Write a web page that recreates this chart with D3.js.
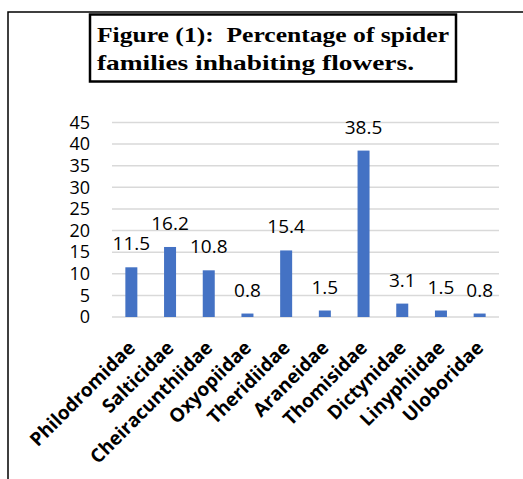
<!DOCTYPE html>
<html>
<head>
<meta charset="utf-8">
<script src="https://cdn.jsdelivr.net/npm/d3@7"></script>
<style>
  html, body { margin: 0; padding: 0; background: #fff; overflow: hidden; }
  svg { display: block; }
</style>
</head>
<body>
<svg id="chart" width="523" height="479"></svg>
<script>
// Spider families found on flowers and their share (%)
const families = ["Philodromidae", "Salticidae", "Cheiracunthiidae", "Oxyopiidae", "Theridiidae",
                  "Araneidae", "Thomisidae", "Dictynidae", "Linyphiidae", "Uloboridae"];
const percentages = [11.5, 16.2, 10.8, 0.8, 15.4, 1.5, 38.5, 3.1, 1.5, 0.8];
const yTicks = [0, 5, 10, 15, 20, 25, 30, 35, 40, 45];
const titleLines = ["Figure (1):  Percentage of spider", "families inhabiting flowers."];
const titleWidths = [352, 317];

const svg = d3.select("#chart");
const sansFont = "'Open Sans', 'Noto Sans', sans-serif";

// outer frame (top and left edges fall inside the page)
svg.append("path")
  .attr("d", "M8,479 L8,12 L523,12")
  .attr("fill", "none").attr("stroke", "#000").attr("stroke-width", 1.5);

// title box
svg.append("rect")
  .attr("x", 90).attr("y", 14.5)
  .attr("width", 366).attr("height", 67)
  .attr("fill", "#fff").attr("stroke", "#000").attr("stroke-width", 2.5);

svg.append("g").selectAll("text")
  .data(titleLines)
  .join("text")
  .attr("x", 97)
  .attr("y", (d, i) => 42 + i * 28)
  .attr("xml:space", "preserve")
  .style("white-space", "pre")
  .attr("textLength", (d, i) => titleWidths[i])
  .attr("lengthAdjust", "spacingAndGlyphs")
  .attr("font-family", "'Liberation Serif', 'Times New Roman', serif")
  .attr("font-weight", "bold")
  .attr("font-size", 22)
  .attr("fill", "#000")
  .text(d => d);

const x = d3.scaleBand()
  .domain(families)
  .range([112, 499])
  .paddingInner(0.69)
  .paddingOuter(0.345);

const y = d3.scaleLinear()
  .domain([0, 45])
  .range([317, 122.5]);

// horizontal gridlines
svg.append("g")
  .selectAll("line")
  .data(yTicks)
  .join("line")
  .attr("x1", 112).attr("x2", 499)
  .attr("y1", d => y(d)).attr("y2", d => y(d))
  .attr("stroke", "#d9d9d9").attr("stroke-width", 1.5);

// y axis labels
const yAxis = d3.axisLeft(y).tickValues(yTicks).tickSize(0).tickPadding(0);
svg.append("g")
  .attr("transform", "translate(90,0)")
  .call(yAxis)
  .call(g => g.select(".domain").remove())
  .call(g => g.selectAll("text")
    .attr("font-family", sansFont)
    .attr("font-size", 18)
    .attr("fill", "#000"));

// bars
svg.append("g")
  .selectAll("rect")
  .data(percentages)
  .join("rect")
  .attr("x", (d, i) => x(families[i]))
  .attr("y", d => y(d))
  .attr("width", x.bandwidth())
  .attr("height", d => y(0) - y(d))
  .attr("fill", "#4472c4");

// value labels
svg.append("g")
  .selectAll("text")
  .data(percentages)
  .join("text")
  .attr("x", (d, i) => x(families[i]) + x.bandwidth() / 2)
  .attr("y", d => y(d) - 17)
  .attr("text-anchor", "middle")
  .attr("font-family", sansFont)
  .attr("font-size", 19)
  .attr("fill", "#000")
  .text(d => d.toFixed(1));

// category labels, rotated
const xAxis = d3.axisBottom(x).tickSize(0).tickPadding(0);
svg.append("g")
  .attr("transform", "translate(0,317)")
  .call(xAxis)
  .call(g => g.select(".domain").remove())
  .call(g => g.selectAll("text")
    .attr("font-family", sansFont)
    .attr("font-weight", "bold")
    .attr("font-size", 19)
    .attr("fill", "#000")
    .attr("text-anchor", "end")
    .attr("dy", null)
    .attr("y", 0)
    .attr("transform", "translate(5,32) rotate(-45)"));
</script>
</body>
</html>
